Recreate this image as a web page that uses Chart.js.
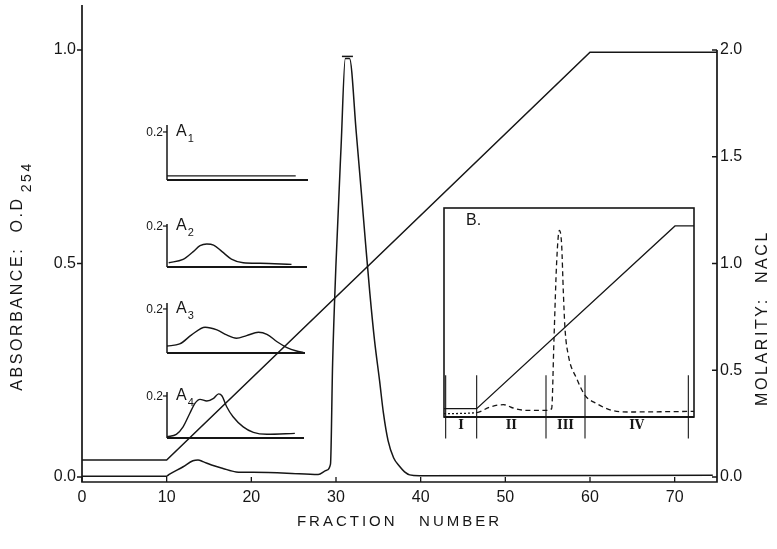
<!DOCTYPE html>
<html>
<head>
<meta charset="utf-8">
<script src="https://cdn.jsdelivr.net/npm/chart.js@4/dist/chart.umd.min.js"></script>
<style>
  html, body { margin: 0; padding: 0; background: #fff; }
  #wrap { position: relative; width: 777px; height: 549px; overflow: hidden; background: #fff; }
  #wrap canvas { position: absolute; }
</style>
</head>
<body>
<div id="wrap">
  <canvas id="main" width="777" height="549" style="left:0;top:0;width:777px;height:549px"></canvas>
</div>
<script>
// ---- axis ticks ----
const fractionTicks = [0, 10, 20, 30, 40, 50, 60, 70];
const absorbanceTicks = [0, 0.5, 1.0];
const molarityTicks = [0, 0.5, 1.0, 1.5, 2.0];

// ---- main elution profile (O.D. 254) ----
const elutionFraction = [0, 10, 10.3, 11.95, 13.1, 13.7, 14.3, 15.3, 16.65, 18.2, 20.2, 24.2, 27.9, 28.9, 29.35,
  29.6, 30.0, 30.6, 31.1, 31.6, 32.4, 33.0, 33.5, 34.0, 34.55, 35.15, 35.6, 36.15, 36.8, 37.5, 38.1, 38.7, 39.85, 74.5];
const elutionOD = [0.002, 0.002, 0.006, 0.024, 0.038, 0.040, 0.036, 0.028, 0.020, 0.012, 0.011, 0.009, 0.006, 0.016, 0.030,
  0.266, 0.500, 0.774, 0.980, 0.980, 0.805, 0.665, 0.545, 0.430, 0.320, 0.225, 0.150, 0.085, 0.045, 0.025, 0.012, 0.005, 0.003, 0.004];
// recorder limit bar across the top of the peak
const capFraction = [30.7, 32.0];
const capOD = [0.985, 0.985];

// ---- NaCl gradient ----
const gradientFraction = [0, 10, 60, 75];
const gradientNaCl = [0.08, 0.08, 1.99, 1.99];

// ---- small profiles A1..A4 ----
const insetTick = 0.2;
const a1Fraction = [10, 25.2];
const a1OD = [0.017, 0.017];
const a2Fraction = [10.2, 11.9, 13.1, 13.9, 14.7, 15.5, 16.5, 17.6, 19.0, 21.0, 24.7];
const a2OD = [0.021, 0.037, 0.075, 0.104, 0.112, 0.107, 0.075, 0.039, 0.021, 0.018, 0.013];
const a3Fraction = [10.0, 11.5, 12.9, 14.5, 15.9, 17.05, 18.2, 19.4, 20.8, 21.8, 23.0, 24.1, 25.3, 26.1];
const a3OD = [0.032, 0.041, 0.082, 0.117, 0.105, 0.082, 0.067, 0.079, 0.094, 0.085, 0.051, 0.026, 0.009, 0.003];
const a4Fraction = [10.0, 11.1, 11.9, 12.7, 13.3, 13.9, 14.7, 15.5, 16.1, 16.5, 17.05, 17.8, 19.0, 20.2, 21.8, 25.1];
const a4OD = [0.006, 0.017, 0.053, 0.118, 0.165, 0.184, 0.176, 0.189, 0.210, 0.200, 0.149, 0.101, 0.053, 0.027, 0.018, 0.022];

// ---- panel B ----
const bPosition = [0, 9.8, 13.8, 17.8, 21.3, 24.8, 30.6, 32.3, 33.0, 33.8, 34.6, 35.3, 35.8, 36.3, 37.3, 39.8, 42.3, 45.8, 50.3, 55.8, 75];
const bAbsorbance = [0.016, 0.021, 0.048, 0.059, 0.040, 0.032, 0.032, 0.040, 0.375, 0.742, 0.893, 0.822, 0.598, 0.423, 0.295, 0.184, 0.104, 0.064, 0.032, 0.024, 0.027];
const bGradientPosition = [0, 9.8, 69.3, 75];
const bGradient = [0.040, 0.040, 0.914, 0.914];
const bRegionBounds = [0.5, 9.8, 30.6, 42.3, 73.3];
const bRegionLabels = ['I', 'II', 'III', 'IV'];

const INK = '#161616';
const FONT = '"Liberation Sans", "DejaVu Sans", sans-serif';

const pairs = (xs, ys) => xs.map((x, i) => ({ x, y: ys[i] }));
const line = (xs, ys, extra) => Object.assign({
  data: pairs(xs, ys), borderColor: INK, borderWidth: 1.5, pointRadius: 0,
  fill: false, tension: 0
}, extra || {});

// frame, tick marks and axis titles of the main plot
const mainFrame = {
  id: 'mainFrame',
  afterDraw(chart) {
    const { ctx, chartArea: a, scales: { x, y, y2 } } = chart;
    ctx.save();
    ctx.strokeStyle = INK;
    ctx.lineWidth = 1.7;
    ctx.beginPath();
    ctx.moveTo(a.left, a.top);
    ctx.lineTo(a.left, a.bottom);
    ctx.lineTo(a.right, a.bottom);
    ctx.lineTo(a.right, y2.getPixelForValue(molarityTicks[molarityTicks.length - 1]));
    ctx.stroke();

    ctx.lineWidth = 1.3;
    ctx.beginPath();
    fractionTicks.forEach(v => {
      const px = x.getPixelForValue(v);
      ctx.moveTo(px, a.bottom); ctx.lineTo(px, a.bottom - 5);
    });
    absorbanceTicks.forEach(v => {
      const py = y.getPixelForValue(v);
      ctx.moveTo(a.left - 5, py); ctx.lineTo(a.left, py);
    });
    molarityTicks.forEach(v => {
      const py = y2.getPixelForValue(v);
      ctx.moveTo(a.right - 5, py); ctx.lineTo(a.right, py);
    });
    ctx.stroke();

    ctx.fillStyle = INK;
    ctx.textBaseline = 'middle';
    ctx.font = '15px ' + FONT;
    ctx.letterSpacing = '3px';
    ctx.textAlign = 'center';
    ctx.fillText('FRACTION   NUMBER', (a.left + a.right) / 2, 522);

    // left title with subscript
    ctx.save();
    ctx.translate(18, 276);
    ctx.rotate(-Math.PI / 2);
    ctx.textAlign = 'left';
    ctx.letterSpacing = '2.6px';
    ctx.font = '16px ' + FONT;
    const t1 = 'ABSORBANCE:  O.D';
    const w1 = ctx.measureText(t1).width;
    ctx.font = '14px ' + FONT;
    const w2 = ctx.measureText('254').width;
    const start = -(w1 + w2 + 4) / 2;
    ctx.font = '16px ' + FONT;
    ctx.fillText(t1, start, 0);
    ctx.font = '14px ' + FONT;
    ctx.fillText('254', start + w1 + 4, 9);
    ctx.restore();

    // right title
    ctx.save();
    ctx.translate(763, 318);
    ctx.rotate(-Math.PI / 2);
    ctx.textAlign = 'center';
    ctx.letterSpacing = '2.6px';
    ctx.font = '16px ' + FONT;
    ctx.fillText('MOLARITY:  NACL', 0, 0);
    ctx.restore();
    ctx.restore();
  }
};

const tickFont = { family: FONT, size: 16 };
const noEdgePaddingY = s => { s.paddingTop = 0; s.paddingBottom = 0; };

new Chart(document.getElementById('main'), {
  type: 'line',
  data: {
    datasets: [
      line(elutionFraction, elutionOD, { yAxisID: 'y', cubicInterpolationMode: 'monotone' }),
      line(capFraction, capOD, { yAxisID: 'y' }),
      line(gradientFraction, gradientNaCl, { yAxisID: 'y2' })
    ]
  },
  options: {
    responsive: false, animation: false, devicePixelRatio: 1,
    layout: { padding: { top: 5, left: 0, right: 0, bottom: 0 } },
    plugins: { legend: { display: false }, tooltip: { enabled: false } },
    scales: {
      x: {
        type: 'linear', min: 0, max: 75,
        afterFit(s) { s.height = 67; s.paddingLeft = 0; s.paddingRight = 0; },
        afterBuildTicks(s) { s.ticks = fractionTicks.map(v => ({ value: v })); },
        grid: { display: false, drawTicks: false }, border: { display: false },
        ticks: { padding: 6, color: INK, font: tickFont, maxRotation: 0, autoSkip: false, callback: v => String(v) }
      },
      y: {
        position: 'left', min: -0.0117, max: 1.1054,
        afterFit(s) { s.width = 82; noEdgePaddingY(s); },
        afterBuildTicks(s) { s.ticks = absorbanceTicks.map(v => ({ value: v })); },
        grid: { display: false, drawTicks: false }, border: { display: false },
        ticks: { padding: 6, color: INK, font: tickFont, autoSkip: false, callback: v => v.toFixed(1) }
      },
      y2: {
        position: 'right', min: -0.0234, max: 2.2108,
        afterFit(s) { s.width = 60; noEdgePaddingY(s); },
        afterBuildTicks(s) { s.ticks = molarityTicks.map(v => ({ value: v })); },
        grid: { display: false, drawTicks: false }, border: { display: false },
        ticks: { padding: 3, color: INK, font: tickFont, autoSkip: false, callback: v => v.toFixed(1) }
      }
    }
  },
  plugins: [mainFrame]
});

// ---- helper for the small overlaid plots ----
const wrap = document.getElementById('wrap');
function overlay(area, margin, xRange, yRange, datasets, decorate) {
  const c = document.createElement('canvas');
  const w = area.right - area.left + margin.left + margin.right;
  const h = area.bottom - area.top + margin.top + margin.bottom;
  c.width = w; c.height = h;
  c.style.left = (area.left - margin.left) + 'px';
  c.style.top = (area.top - margin.top) + 'px';
  c.style.width = w + 'px'; c.style.height = h + 'px';
  wrap.appendChild(c);
  return new Chart(c, {
    type: 'line',
    data: { datasets },
    options: {
      responsive: false, animation: false, devicePixelRatio: 1,
      layout: { padding: margin },
      plugins: { legend: { display: false }, tooltip: { enabled: false } },
      scales: {
        x: { type: 'linear', display: false, min: xRange[0], max: xRange[1] },
        y: { display: false, min: yRange[0], max: yRange[1] }
      }
    },
    plugins: [{ id: 'deco', afterDraw: decorate }]
  });
}

function profileDeco(index) {
  return chart => {
    const { ctx, chartArea: a, scales: { y } } = chart;
    const base = y.getPixelForValue(0);
    const tk = y.getPixelForValue(insetTick);
    ctx.save();
    ctx.strokeStyle = INK;
    ctx.lineWidth = 1.5;
    ctx.beginPath();
    ctx.moveTo(a.left, a.top); ctx.lineTo(a.left, base);
    ctx.stroke();
    ctx.lineWidth = 2.2;
    ctx.beginPath();
    ctx.moveTo(a.left, base); ctx.lineTo(a.right, base);
    ctx.stroke();
    ctx.lineWidth = 1.2;
    ctx.beginPath();
    ctx.moveTo(a.left - 4, tk); ctx.lineTo(a.left, tk);
    ctx.stroke();
    ctx.fillStyle = INK;
    ctx.textBaseline = 'middle';
    ctx.textAlign = 'right';
    ctx.font = '12px ' + FONT;
    ctx.fillText(insetTick.toFixed(1), a.left - 4, tk + 1);
    ctx.textAlign = 'left';
    ctx.font = '16px ' + FONT;
    ctx.fillText('A', a.left + 9, tk);
    const wa = ctx.measureText('A').width;
    ctx.font = '11px ' + FONT;
    ctx.fillText(String(index), a.left + 10 + wa, tk + 7);
    ctx.restore();
  };
}

const insetMargin = { left: 30, right: 8, top: 10, bottom: 8 };
overlay({ left: 167, right: 308, top: 125, bottom: 180 }, insetMargin, [10, 26.65], [0, 0.229],
  [line(a1Fraction, a1OD, { borderWidth: 1.4 })], profileDeco(1));
overlay({ left: 167, right: 307, top: 224, bottom: 267 }, insetMargin, [10, 26.53], [0, 0.21],
  [line(a2Fraction, a2OD, { borderWidth: 1.4, cubicInterpolationMode: 'monotone' })], profileDeco(2));
overlay({ left: 167, right: 305, top: 303, bottom: 353 }, insetMargin, [10, 26.3], [0, 0.227],
  [line(a3Fraction, a3OD, { borderWidth: 1.4, cubicInterpolationMode: 'monotone' })], profileDeco(3));
overlay({ left: 167, right: 304, top: 392, bottom: 438 }, insetMargin, [10, 26.18], [0, 0.219],
  [line(a4Fraction, a4OD, { borderWidth: 1.4, cubicInterpolationMode: 'monotone' })], profileDeco(4));

// ---- panel B ----
overlay({ left: 444, right: 694, top: 208, bottom: 417 }, { left: 10, right: 10, top: 10, bottom: 30 }, [0, 75], [0, 1],
  [
    line(bGradientPosition, bGradient, { borderWidth: 1.3 }),
    line(bPosition, bAbsorbance, {
      borderWidth: 1.3, cubicInterpolationMode: 'monotone',
      segment: { borderDash: c => (c.p1.parsed.x <= bRegionBounds[1] ? [2, 2] : [5, 3.5]) }
    })
  ],
  chart => {
    const { ctx, chartArea: a, scales: { x, y } } = chart;
    ctx.save();
    ctx.strokeStyle = INK;
    ctx.lineWidth = 1.6;
    ctx.strokeRect(a.left, a.top, a.right - a.left, a.bottom - a.top);
    ctx.lineWidth = 2.2;
    ctx.beginPath();
    ctx.moveTo(a.left, a.bottom); ctx.lineTo(a.right, a.bottom);
    ctx.stroke();
    ctx.lineWidth = 1.1;
    ctx.beginPath();
    bRegionBounds.forEach(v => {
      const px = x.getPixelForValue(v);
      ctx.moveTo(px, y.getPixelForValue(0.2));
      ctx.lineTo(px, y.getPixelForValue(-0.103));
    });
    ctx.stroke();
    ctx.fillStyle = INK;
    ctx.textBaseline = 'middle';
    ctx.textAlign = 'center';
    ctx.font = 'bold 12px "DejaVu Serif", "Liberation Serif", serif';
    bRegionLabels.forEach((t, i) => {
      const cx = (x.getPixelForValue(bRegionBounds[i]) + x.getPixelForValue(bRegionBounds[i + 1])) / 2;
      ctx.fillText(t, cx, a.bottom + 9);
    });
    ctx.textAlign = 'left';
    ctx.font = '16px ' + FONT;
    ctx.fillText('B.', a.left + 22, a.top + 13);
    ctx.restore();
  });
</script>
</body>
</html>
